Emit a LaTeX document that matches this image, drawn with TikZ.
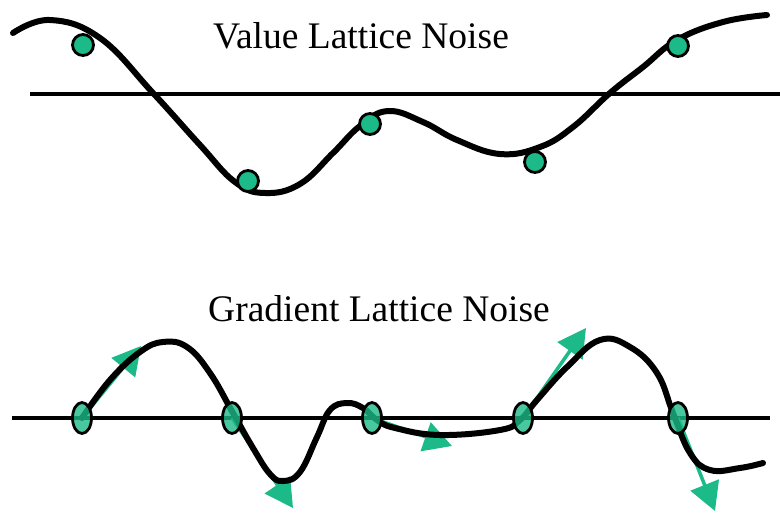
\documentclass[tikz,border=0pt]{standalone}
\usepackage{fontspec}
\setmainfont{Liberation Serif}
\usepackage{xcolor}
\usetikzlibrary{arrows.meta, shapes.geometric}

\definecolor{latgreen}{RGB}{28,186,136}

\begin{document}
\begin{tikzpicture}[
  x=1pt, y=-1pt,
  axis/.style={line width=4.5pt},
  noise/.style={line width=6pt, line cap=round, line join=round},
  valpt/.style={circle, draw, line width=2.8pt, fill=latgreen,
                minimum size=21pt, inner sep=0pt},
  gradpt/.style={ellipse, draw, line width=2.8pt, fill=latgreen,
                 fill opacity=0.8, minimum width=19pt, minimum height=31pt,
                 inner sep=0pt},
  grad/.style={latgreen, line width=3.5pt,
               -{Triangle[length=28pt, width=30pt]}},
  title/.style={font=\fontsize{37.5}{42}\selectfont}
]
  \useasboundingbox (0,0) rectangle (780,512);

  % value lattice noise
  \node[title] (valtitle) at (361,36) {Value Lattice Noise};
  \coordinate (vaxl) at (30,94);
  \coordinate (vaxr) at (780,94);
  \draw[axis] (vaxl) -- (vaxr);
  \draw[noise] plot[smooth, tension=0.7] coordinates {
    (13,33) (50,20) (100,38) (153,93) (200,145) (235,182) (265,193)
    (300,184) (333,153) (360,126) (388,111) (423,122) (457,140) (500,154)
    (540,147) (573,127) (610,93) (643,67) (677,40) (723,22) (767,15)};
  \node[valpt] (v1) at (83,45) {};
  \node[valpt] (v2) at (248,181) {};
  \node[valpt] (v3) at (370,124) {};
  \node[valpt] (v4) at (535,162) {};
  \node[valpt] (v5) at (678,46) {};

  % gradient lattice noise
  \node[title] (gradtitle) at (379,309) {Gradient Lattice Noise};
  \coordinate (gaxl) at (12,418);
  \coordinate (gaxr) at (770,418);
  \draw[axis] (gaxl) -- (gaxr);
  \coordinate (g1) at (82,418);
  \coordinate (g2) at (232,418);
  \coordinate (g3) at (372,418);
  \coordinate (g4) at (523,418);
  \coordinate (g5) at (678,418);
  \coordinate (t1) at (141,346);
  \coordinate (t2) at (293,508);
  \coordinate (t3) at (452,446);
  \coordinate (t4) at (586,328);
  \coordinate (t5) at (715,511);
  \foreach \i in {1,...,5}
    \draw[grad] (g\i) -- (t\i);
  \draw[noise] plot[smooth, tension=0.7] coordinates {
    (82,418) (110,380) (140,352) (163,342) (187,347) (210,373) (233,413)
    (253,448) (270,474) (283,481) (300,472) (317,437) (330,410) (347,403)
    (363,408) (377,420) (395,428) (440,435) (500,430) (520,420) (537,400)
    (567,367) (600,340) (630,347) (657,373) (673,413) (690,453) (710,470)
    (740,468) (763,463)};
  \foreach \i in {1,...,5}
    \node[gradpt] (p\i) at (g\i) {};
\end{tikzpicture}
\end{document}
